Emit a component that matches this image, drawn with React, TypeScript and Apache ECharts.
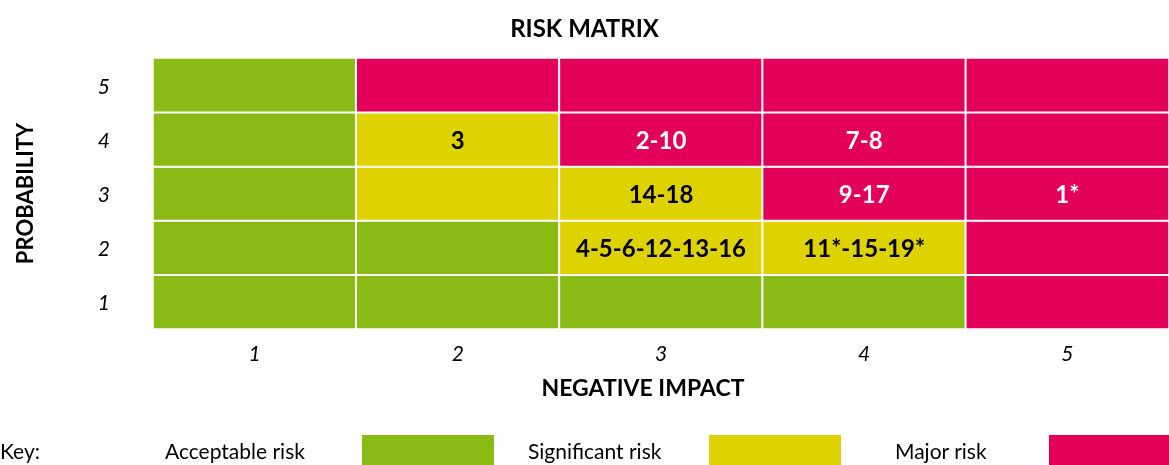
import React, { useEffect, useRef } from "react";
import * as echarts from "echarts";

const impactLabels = ["1", "2", "3", "4", "5"];
const probabilityLabels = ["1", "2", "3", "4", "5"];
// risk level per cell: 0 acceptable, 1 significant, 2 major; rows from probability 1 to 5
const riskLevels = [
  [0, 0, 0, 0, 2],
  [0, 0, 1, 1, 2],
  [0, 1, 1, 2, 2],
  [0, 1, 2, 2, 2],
  [0, 2, 2, 2, 2],
];
const cellTexts = [
  ["", "", "", "", ""],
  ["", "", "4-5-6-12-13-16", "11*-15-19*", ""],
  ["", "", "14-18", "9-17", "1*"],
  ["", "3", "2-10", "7-8", ""],
  ["", "", "", "", ""],
];
const keyLabels = ["Acceptable risk", "Significant risk", "Major risk"];
const levelColors = ["#8aba14", "#ded200", "#e2005a"];
const textColors = ["#000000", "#000000", "#ffffff"];

const FONT = "Lato, 'Noto Sans', sans-serif";

export default function App() {
  const ref = useRef<HTMLDivElement>(null);
  useEffect(() => {
    if (!ref.current) return;
    const chart = echarts.init(ref.current, null, { renderer: "svg" });
    const data: any[] = [];
    riskLevels.forEach((row, yi) => {
      row.forEach((lvl, xi) => {
        data.push({
          value: [xi, yi, lvl],
          label: { color: textColors[lvl] },
          name: cellTexts[yi][xi],
        });
      });
    });
    const keyX = [
      { tx: 165, rx: 362 },
      { tx: 528, rx: 709 },
      { tx: 895, rx: 1049 },
    ];
    const graphics: any[] = [
      {
        type: "text",
        left: 0,
        top: 440,
        style: { text: "Key:", font: `21px ${FONT}`, fill: "#000" },
      },
    ];
    keyLabels.forEach((k, i) => {
      graphics.push({
        type: "text",
        left: keyX[i].tx,
        top: 440,
        style: { text: k, font: `21px ${FONT}`, fill: "#000" },
      });
      graphics.push({
        type: "rect",
        shape: { x: keyX[i].rx, y: 435, width: 132, height: 32 },
        style: { fill: levelColors[i] },
      });
    });
    chart.setOption({
      animation: false,
      title: {
        text: "RISK MATRIX",
        left: "center",
        top: 10,
        textStyle: { fontFamily: FONT, fontWeight: "bold", fontSize: 24, color: "#000" },
      },
      grid: { left: 153, right: -1, top: 58, bottom: 136 },
      xAxis: {
        type: "category",
        data: impactLabels,
        name: "NEGATIVE IMPACT",
        nameLocation: "middle",
        nameGap: 46,
        nameTextStyle: {
          fontFamily: FONT,
          fontWeight: "bold",
          fontSize: 23,
          color: "#000",
          padding: [0, 36, 0, 0],
        },
        axisLine: { show: false },
        axisTick: { show: false },
        splitLine: { show: false },
        axisLabel: {
          fontFamily: FONT,
          fontStyle: "italic",
          fontSize: 21,
          color: "#000",
          margin: 13,
        },
      },
      yAxis: {
        type: "category",
        data: probabilityLabels,
        name: "PROBABILITY",
        nameLocation: "middle",
        nameGap: 118,
        nameTextStyle: { fontFamily: FONT, fontWeight: "bold", fontSize: 22, color: "#000" },
        axisLine: { show: false },
        axisTick: { show: false },
        splitLine: { show: false },
        axisLabel: {
          fontFamily: FONT,
          fontStyle: "italic",
          fontSize: 21,
          color: "#000",
          margin: 43,
        },
      },
      visualMap: {
        show: false,
        type: "piecewise",
        dimension: 2,
        pieces: [
          { value: 0, color: levelColors[0] },
          { value: 1, color: levelColors[1] },
          { value: 2, color: levelColors[2] },
        ],
      },
      series: [
        {
          type: "heatmap",
          data,
          itemStyle: { borderColor: "#ffffff", borderWidth: 2 },
          label: {
            show: true,
            formatter: (p: any) => p.name,
            fontFamily: FONT,
            fontWeight: "bold",
            fontSize: 24,
          },
          emphasis: { disabled: true },
        },
      ],
      graphic: graphics,
    });
    return () => chart.dispose();
  }, []);
  return (
    <div
      ref={ref}
      style={{ position: "fixed", left: 0, top: 0, width: 1169, height: 465 }}
    />
  );
}
